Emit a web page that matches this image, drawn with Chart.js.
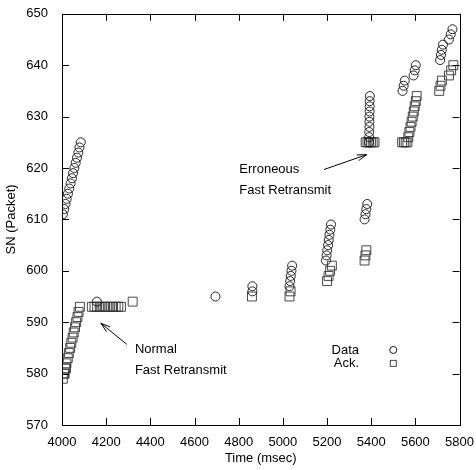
<!DOCTYPE html>
<html>
<head>
<meta charset="utf-8">
<script src="https://cdn.jsdelivr.net/npm/chart.js@4.4.1/dist/chart.umd.min.js"></script>
<style>
  html, body { margin: 0; padding: 0; background: #fff; }
  #wrap { width: 476px; height: 470px; }
</style>
</head>
<body>
<div id="wrap"><canvas id="chart" width="476" height="470"></canvas></div>
<script>
// Data packets sent (time in msec, sequence number)
const dataTime = [4004, 4010, 4016, 4021, 4027, 4033, 4039, 4045, 4050, 4056, 4062, 4068, 4074, 4079, 4085,
    4158, 4695, 4862, 4862,
    5030, 5033, 5036, 5039, 5042,
    5195, 5198, 5201, 5205, 5208, 5211, 5215, 5218,
    5370, 5374, 5378, 5382,
    5390, 5391, 5391, 5392, 5392, 5392, 5393, 5393, 5393, 5394,
    5542, 5547, 5552, 5592, 5597, 5602,
    5712, 5716, 5720, 5725, 5752, 5760, 5768];
const dataSN = [611, 612, 613, 614, 615, 616, 617, 618, 619, 620, 621, 622, 623, 624, 625,
    594, 595, 596, 597,
    597, 598, 599, 600, 601,
    602, 603, 604, 605, 606, 607, 608, 609,
    610, 611, 612, 613,
    625, 626, 627, 628, 629, 630, 631, 632, 633, 634,
    635, 636, 637, 638, 639, 640,
    641, 642, 643, 644, 645, 646, 647];

// Acks received
const ackTime = [4004, 4009, 4012, 4015, 4018, 4020, 4026, 4031, 4037, 4042, 4048, 4053, 4059, 4064, 4070, 4075, 4081,
    4135, 4147, 4159, 4171, 4183, 4195, 4207, 4219, 4231, 4243, 4255, 4267,
    4320, 4860, 5030, 5035,
    5200, 5207, 5214, 5222,
    5370, 5374, 5378,
    5375, 5383, 5391, 5399, 5407, 5415,
    5540, 5548, 5556, 5564,
    5568, 5573, 5578, 5583, 5588, 5593, 5597, 5602, 5606,
    5708, 5714, 5720, 5752, 5762, 5772];
const ackSN = [579, 580, 580, 581, 581, 582, 583, 584, 585, 586, 587, 588, 589, 590, 591, 592, 593,
    593, 593, 593, 593, 593, 593, 593, 593, 593, 593, 593, 593,
    594, 595, 595, 596,
    598, 599, 600, 601,
    602, 603, 604,
    625, 625, 625, 625, 625, 625,
    625, 625, 625, 625,
    626, 627, 628, 629, 630, 631, 632, 633, 634,
    635, 636, 637, 638, 639, 640];

const xTicks = [4000, 4200, 4400, 4600, 4800, 5000, 5200, 5400, 5600, 5800];
const yTicks = [570, 580, 590, 600, 610, 620, 630, 640, 650];

const seriesNames = ['Data', 'Ack.'];

const FONT = 'Liberation Sans, Arial, Helvetica, sans-serif';

function pts(xs, ys) { return xs.map((x, i) => ({ x: x, y: ys[i] })); }

// frame with inward ticks on all four sides, annotations and legend
const framePlugin = {
    id: 'frame',
    afterDraw(chart) {
        const ctx = chart.ctx;
        const a = chart.chartArea;
        const xs = chart.scales.x, ys = chart.scales.y;
        const L = 7;
        ctx.save();
        ctx.strokeStyle = '#000';
        ctx.lineWidth = 1;
        ctx.strokeRect(Math.round(a.left) + 0.5, Math.round(a.top) + 0.5,
            Math.round(a.right - a.left), Math.round(a.bottom - a.top));
        ctx.beginPath();
        xTicks.forEach(v => {
            const px = Math.round(xs.getPixelForValue(v)) + 0.5;
            ctx.moveTo(px, a.bottom); ctx.lineTo(px, a.bottom - L);
            ctx.moveTo(px, a.top); ctx.lineTo(px, a.top + L);
        });
        yTicks.forEach(v => {
            const py = Math.round(ys.getPixelForValue(v)) + 0.5;
            ctx.moveTo(a.left, py); ctx.lineTo(a.left + L, py);
            ctx.moveTo(a.right, py); ctx.lineTo(a.right - L, py);
        });
        ctx.stroke();

        // annotations
        ctx.fillStyle = '#000';
        ctx.font = '13px ' + FONT;
        ctx.textBaseline = 'middle';
        ctx.textAlign = 'left';
        ctx.fillText('Normal', xs.getPixelForValue(4330), ys.getPixelForValue(584.8));
        ctx.fillText('Fast Retransmit', xs.getPixelForValue(4330), ys.getPixelForValue(580.7));
        ctx.fillText('Erroneous', xs.getPixelForValue(4803), ys.getPixelForValue(619.7));
        ctx.fillText('Fast Retransmit', xs.getPixelForValue(4803), ys.getPixelForValue(615.7));

        function arrow(x0, y0, x1, y1) {
            const ax = xs.getPixelForValue(x0), ay = ys.getPixelForValue(y0);
            const bx = xs.getPixelForValue(x1), by = ys.getPixelForValue(y1);
            const ang = Math.atan2(by - ay, bx - ax);
            ctx.beginPath();
            ctx.moveTo(ax, ay); ctx.lineTo(bx, by);
            ctx.moveTo(bx - 10 * Math.cos(ang - 0.3), by - 10 * Math.sin(ang - 0.3));
            ctx.lineTo(bx, by);
            ctx.lineTo(bx - 10 * Math.cos(ang + 0.3), by - 10 * Math.sin(ang + 0.3));
            ctx.stroke();
        }
        arrow(4293, 585.7, 4176, 589.8);
        arrow(5186, 619.7, 5380, 622.6);

        // legend
        ctx.textAlign = 'right';
        const lx = xs.getPixelForValue(5345);
        ctx.fillText(seriesNames[0], lx, ys.getPixelForValue(584.6));
        ctx.fillText(seriesNames[1], lx, ys.getPixelForValue(582.0));
        ctx.lineWidth = 0.9;
        const mx = xs.getPixelForValue(5500);
        ctx.beginPath();
        ctx.arc(mx, ys.getPixelForValue(584.6), 3.5, 0, Math.PI * 2);
        ctx.stroke();
        ctx.strokeStyle = '#333';
        ctx.strokeRect(mx - 3, ys.getPixelForValue(582.0) - 3, 6, 6);
        ctx.restore();
    }
};

new Chart(document.getElementById('chart'), {
    type: 'scatter',
    data: {
        datasets: [
            {
                label: seriesNames[0],
                data: pts(dataTime, dataSN),
                pointStyle: 'circle',
                pointRadius: 4.5,
                borderColor: '#111',
                borderWidth: 0.9,
                backgroundColor: 'rgba(0,0,0,0)'
            },
            {
                label: seriesNames[1],
                data: pts(ackTime, ackSN),
                pointStyle: 'rect',
                pointRadius: 6.3,
                borderColor: '#333',
                borderWidth: 0.9,
                backgroundColor: 'rgba(0,0,0,0)'
            }
        ]
    },
    options: {
        responsive: false,
        animation: false,
        events: [],
        layout: { padding: { top: 8, right: 15, left: 0, bottom: 0 } },
        plugins: { legend: { display: false }, tooltip: { enabled: false } },
        scales: {
            x: {
                type: 'linear',
                min: 4000, max: 5800,
                afterBuildTicks: s => { s.ticks = xTicks.map(v => ({ value: v })); },
                afterFit: s => { s.height = 45; },
                grid: { display: false },
                border: { display: false },
                ticks: { color: '#000', font: { family: FONT, size: 13 }, padding: 2, maxRotation: 0,
                    callback: v => String(v) },
                title: { display: true, text: 'Time (msec)', color: '#000', font: { family: FONT, size: 13 }, padding: { top: 0, bottom: 4 } }
            },
            y: {
                type: 'linear',
                min: 570, max: 650,
                afterBuildTicks: s => { s.ticks = yTicks.map(v => ({ value: v })); },
                afterFit: s => { s.width = 62; },
                grid: { display: false },
                border: { display: false },
                ticks: { color: '#000', font: { family: FONT, size: 13 }, padding: 6,
                    callback: v => String(v) },
                title: { display: true, text: 'SN (Packet)', color: '#000', font: { family: FONT, size: 13 }, padding: { top: 4, bottom: 0 } }
            }
        }
    },
    plugins: [framePlugin]
});
</script>
</body>
</html>
